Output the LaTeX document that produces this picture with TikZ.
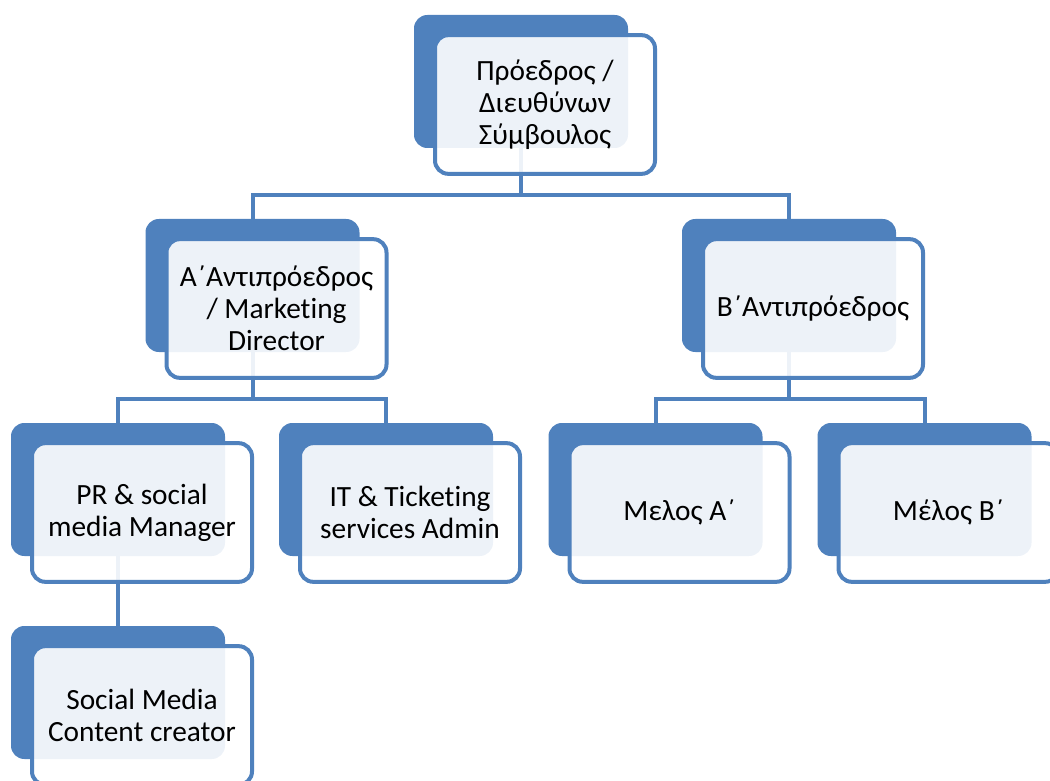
\documentclass[tikz,border=0pt]{standalone}
\usepackage{fontspec}
\setmainfont[Ligatures=NoCommon]{Carlito}
\usetikzlibrary{backgrounds}
\definecolor{chartblue}{HTML}{4F81BD}
\tikzset{
    back/.style={fill=chartblue,rounded corners=10pt,inner sep=0pt,outer sep=0pt,
        minimum width=160.5pt,minimum height=99.75pt},
    front/.style={draw=chartblue,line width=3pt,fill=white,fill opacity=0.9,text opacity=1,
        rounded corners=10pt,inner sep=0pt,outer sep=0pt,align=center,
        minimum width=165pt,minimum height=104pt,
        font=\fontsize{22}{24}\selectfont},
    link/.style={draw=chartblue,line width=3pt}
}
\begin{document}
\begin{tikzpicture}[x=0.75pt,y=-0.75pt]
    \useasboundingbox (0,0) rectangle (1050,781);

    % President
    \node [back] (pres) at (521,81.5) {};
    \node [front] (pres-f) at (545,104.5) {Πρόεδρος /\\Διευθύνων\\Σύμβουλος};

    % Vice presidents
    \node [back] (va) at (252.5,285.5) {};
    \node [front] (va-f) at (276.5,308.5) {Α΄Αντιπρόεδρος\\/ Marketing\\Director};
    \node [back] (vb) at (789,285.5) {};
    \node [front] (vb-f) at (813,308.5) {Β΄Αντιπρόεδρος};

    % Members
    \node [back] (pr) at (118,489.5) {};
    \node [front] (pr-f) at (142,512.5) {PR \& social\\media Manager};
    \node [back] (it) at (386,489.5) {};
    \node [front] (it-f) at (410,512.5) {IT \& Ticketing\\services Admin};
    \node [back] (ma) at (655.5,489.5) {};
    \node [front] (ma-f) at (679.5,512.5) {Μελος Α΄};
    \node [back] (mb) at (924.5,489.5) {};
    \node [front] (mb-f) at (948.5,512.5) {Μέλος Β΄};

    % Content creator
    \node [back] (smc) at (118,692.5) {};
    \node [front] (smc-f) at (142,715.5) {Social Media\\Content creator};

    % Connectors
    \begin{scope}[on background layer]
        \draw[link] (pres.south) -- ++(0,47) -| (va.north);
        \draw[link] (pres.south) -- ++(0,47) -| (vb.north);
        \draw[link] (va.south) -- ++(0,47) -| (pr.north);
        \draw[link] (va.south) -- ++(0,47) -| (it.north);
        \draw[link] (vb.south) -- ++(0,47) -| (ma.north);
        \draw[link] (vb.south) -- ++(0,47) -| (mb.north);
        \draw[link] (pr.south) -- (smc.north);
    \end{scope}
\end{tikzpicture}
\end{document}
